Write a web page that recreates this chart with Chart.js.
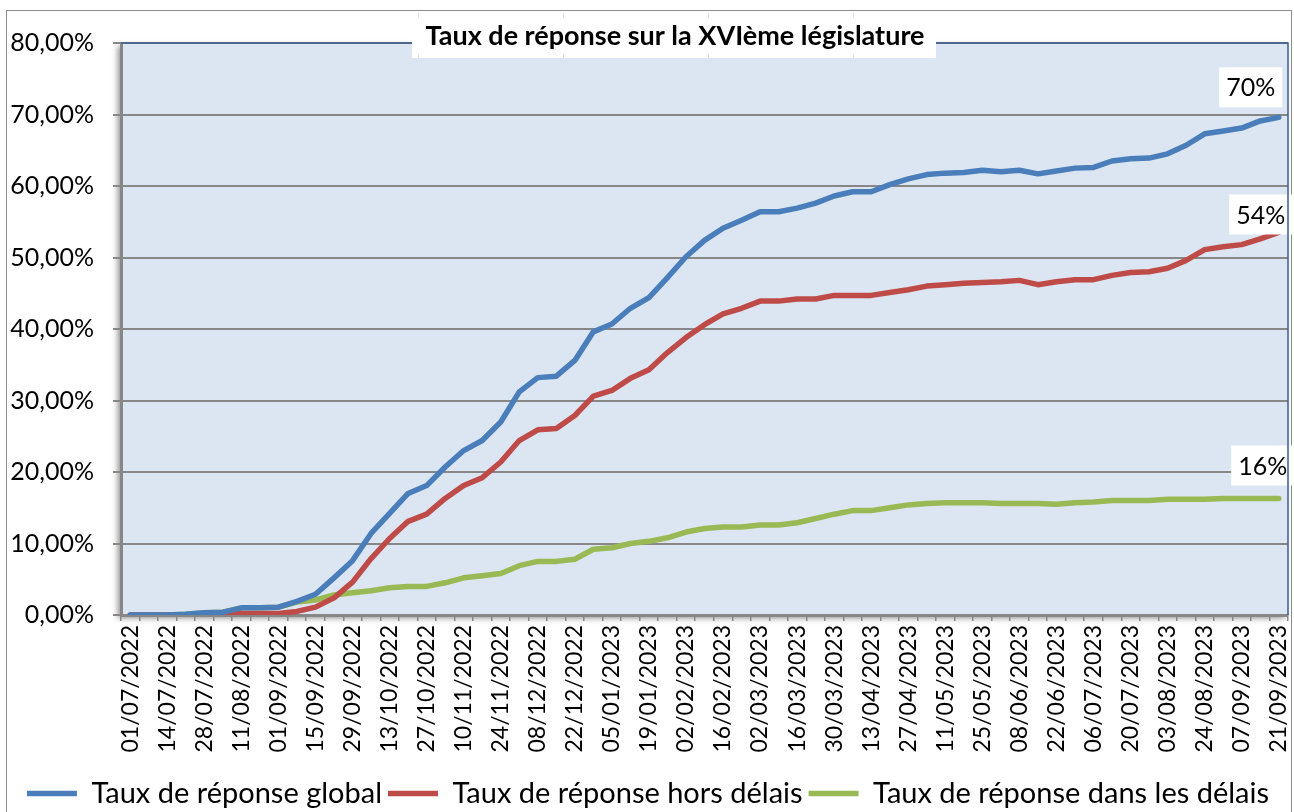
<!DOCTYPE html>
<html lang="fr">
<head>
<meta charset="utf-8">
<title>Taux de réponse sur la XVIème législature</title>
<script src="https://cdn.jsdelivr.net/npm/chart.js@4.4.1/dist/chart.umd.min.js"></script>
<style>
  html, body { margin: 0; padding: 0; background: #ffffff; }
  #wrap { width: 1294px; height: 812px; position: relative; }
</style>
</head>
<body>
<div id="wrap"><canvas id="chart" width="1294" height="812"></canvas></div>
<script>
// Weekly reporting dates (every other one is printed on the axis)
const categories = [
  '01/07/2022','07/07/2022','14/07/2022','21/07/2022','28/07/2022','04/08/2022','11/08/2022','25/08/2022',
  '01/09/2022','08/09/2022','15/09/2022','22/09/2022','29/09/2022','06/10/2022','13/10/2022','20/10/2022',
  '27/10/2022','03/11/2022','10/11/2022','17/11/2022','24/11/2022','01/12/2022','08/12/2022','15/12/2022',
  '22/12/2022','29/12/2022','05/01/2023','12/01/2023','19/01/2023','26/01/2023','02/02/2023','09/02/2023',
  '16/02/2023','23/02/2023','02/03/2023','09/03/2023','16/03/2023','23/03/2023','30/03/2023','06/04/2023',
  '13/04/2023','20/04/2023','27/04/2023','04/05/2023','11/05/2023','18/05/2023','25/05/2023','01/06/2023',
  '08/06/2023','15/06/2023','22/06/2023','29/06/2023','06/07/2023','13/07/2023','20/07/2023','27/07/2023',
  '03/08/2023','17/08/2023','24/08/2023','31/08/2023','07/09/2023','14/09/2023','21/09/2023'
];

// Response rates, in percent
const tauxGlobal = [
  0, 0, 0, 0.1, 0.3, 0.4, 1.0, 1.0, 1.1,
  1.9, 2.9, 5.2, 7.6, 11.4, 14.2, 17.0, 18.1, 20.7, 23.0,
  24.4, 27.0, 31.2, 33.2, 33.4, 35.6, 39.6, 40.7, 42.9, 44.4,
  47.2, 50.1, 52.4, 54.1, 55.2, 56.4, 56.4, 56.9, 57.6, 58.6,
  59.2, 59.2, 60.2, 61.0, 61.6, 61.8, 61.9, 62.2, 62.0, 62.2,
  61.7, 62.1, 62.5, 62.6, 63.5, 63.8, 63.9, 64.5, 65.7, 67.3,
  67.7, 68.1, 69.1, 69.6
];
const tauxHorsDelais = [
  0, 0, 0, 0, 0, 0, 0.2, 0.2, 0.2,
  0.5, 1.1, 2.4, 4.6, 7.9, 10.7, 13.1, 14.1, 16.3, 18.1,
  19.2, 21.4, 24.4, 25.9, 26.1, 27.9, 30.6, 31.4, 33.1, 34.3,
  36.7, 38.8, 40.6, 42.1, 42.9, 43.9, 43.9, 44.2, 44.2, 44.7,
  44.7, 44.7, 45.1, 45.5, 46.0, 46.2, 46.4, 46.5, 46.6, 46.8,
  46.2, 46.6, 46.9, 46.9, 47.5, 47.9, 48.0, 48.5, 49.6, 51.1,
  51.5, 51.8, 52.6, 53.5
];
const tauxDansDelais = [
  0, 0, 0, 0.1, 0.3, 0.4, 1.0, 1.0, 1.1,
  1.8, 2.1, 2.8, 3.1, 3.4, 3.8, 4.0, 4.0, 4.5, 5.2,
  5.5, 5.8, 6.9, 7.5, 7.5, 7.8, 9.2, 9.4, 10.0, 10.3,
  10.8, 11.6, 12.1, 12.3, 12.3, 12.6, 12.6, 12.9, 13.5, 14.1,
  14.6, 14.6, 15.0, 15.4, 15.6, 15.7, 15.7, 15.7, 15.6, 15.6,
  15.6, 15.5, 15.7, 15.8, 16.0, 16.0, 16.0, 16.2, 16.2, 16.2,
  16.3, 16.3, 16.3, 16.3
];

const seriesNames = ['Taux de réponse global', 'Taux de réponse hors délais', 'Taux de réponse dans les délais'];
const yTicks = [0, 10, 20, 30, 40, 50, 60, 70, 80];
const chartTitle = 'Taux de réponse sur la XVIème législature';

const FONT = 'Lato, "Open Sans", sans-serif';
const GRID = '#878787';
const FRAME = '#3b5f8f';

// Plot area fill with a soft shadow, plus the outer chart border
const plotFrame = {
  id: 'plotFrame',
  beforeDraw(chart) {
    const { ctx, chartArea: a } = chart;
    ctx.save();
    ctx.strokeStyle = '#8c8c8c';
    ctx.lineWidth = 1;
    ctx.strokeRect(6.5, 10.5, 1285, 812);
    ctx.shadowColor = 'rgba(0,0,0,0.45)';
    ctx.shadowBlur = 6;
    ctx.shadowOffsetX = -3;
    ctx.shadowOffsetY = 3;
    ctx.fillStyle = '#dce6f2';
    ctx.fillRect(a.left, a.top, a.right - a.left, a.bottom - a.top);
    ctx.restore();
  },
  afterDraw(chart) {
    const { ctx, chartArea: a } = chart;
    ctx.save();
    ctx.strokeStyle = FRAME;
    ctx.lineWidth = 1.5;
    ctx.beginPath();
    ctx.moveTo(a.left, a.top);
    ctx.lineTo(a.right, a.top);
    ctx.lineTo(a.right, a.bottom);
    ctx.stroke();
    ctx.restore();
  }
};

// Title drawn in a white box straddling the top edge of the plot
const titleBox = {
  id: 'titleBox',
  afterDraw(chart) {
    const { ctx } = chart;
    ctx.save();
    ctx.fillStyle = '#ffffff';
    ctx.fillRect(412, 13, 524, 45);
    ctx.strokeStyle = '#e3e3e3';
    ctx.lineWidth = 1;
    [418.5, 563.5, 708.5, 853.5].forEach(x => {
      ctx.beginPath(); ctx.moveTo(x, 13); ctx.lineTo(x, 18); ctx.stroke();
      ctx.beginPath(); ctx.moveTo(x, 54); ctx.lineTo(x, 58); ctx.stroke();
    });
    ctx.font = 'bold 27px ' + FONT;
    ctx.fillStyle = '#000000';
    ctx.textAlign = 'center';
    ctx.textBaseline = 'middle';
    ctx.fillText(chartTitle, 675, 36);
    ctx.restore();
  }
};

// Value label on the last point of each series
const endLabels = {
  id: 'endLabels',
  afterDatasetsDraw(chart) {
    const { ctx } = chart;
    ctx.save();
    ctx.font = '25px ' + FONT;
    ctx.textAlign = 'center';
    ctx.textBaseline = 'middle';
    chart.data.datasets.forEach((ds, i) => {
      const meta = chart.getDatasetMeta(i);
      const last = meta.data.length - 1;
      const pt = meta.data[last];
      const txt = Math.round(ds.data[last]) + '%';
      const off = ds.endLabelOffset;
      const cx = pt.x + off.dx, cy = pt.y + off.dy;
      const w = ctx.measureText(txt).width + 14, h = 40;
      ctx.fillStyle = '#ffffff';
      ctx.fillRect(cx - w / 2, cy - h / 2, w, h);
      ctx.fillStyle = '#000000';
      ctx.fillText(txt, cx, cy + 1);
    });
    ctx.restore();
  }
};

const lineStyle = (color) => ({
  borderColor: color,
  backgroundColor: color,
  borderWidth: 5.5,
  borderCapStyle: 'round',
  borderJoinStyle: 'round',
  pointRadius: 0,
  pointHoverRadius: 0,
  tension: 0,
  fill: false
});

new Chart(document.getElementById('chart'), {
  type: 'line',
  data: {
    labels: categories,
    datasets: [
      Object.assign({ label: seriesNames[0], data: tauxGlobal, endLabelOffset: { dx: -28, dy: -30 } }, lineStyle('#4a7ebb')),
      Object.assign({ label: seriesNames[1], data: tauxHorsDelais, endLabelOffset: { dx: -18, dy: -18 } }, lineStyle('#be4b48')),
      Object.assign({ label: seriesNames[2], data: tauxDansDelais, endLabelOffset: { dx: -16, dy: -33 } }, lineStyle('#98b954'))
    ]
  },
  options: {
    responsive: false,
    animation: false,
    events: [],
    layout: { padding: { top: 43, left: 8, right: 6, bottom: -6 } },
    scales: {
      x: {
        type: 'category',
        offset: true,
        grid: {
          offset: true,
          drawOnChartArea: false,
          drawTicks: true,
          tickLength: 6,
          color: GRID,
          lineWidth: 1.5
        },
        border: { display: true, color: GRID, width: 3 },
        ticks: {
          autoSkip: false,
          minRotation: 90,
          maxRotation: 90,
          padding: 4,
          color: '#000000',
          font: { family: FONT, size: 23 },
          callback(value, index) { return index % 2 === 0 ? categories[index] : ''; }
        },
        afterFit(scale) {
          scale.height = 158;
          scale.paddingLeft = 0;
          scale.paddingRight = 0;
        }
      },
      y: {
        min: yTicks[0],
        max: yTicks[yTicks.length - 1],
        afterBuildTicks(scale) { scale.ticks = yTicks.map(v => ({ value: v })); },
        grid: {
          color: GRID,
          lineWidth: 2,
          drawTicks: true,
          tickLength: 8
        },
        border: { display: true, color: GRID, width: 3 },
        ticks: {
          padding: 19,
          color: '#000000',
          font: { family: FONT, size: 25 },
          callback(value) { return value.toFixed(2).replace('.', ',') + '%'; }
        },
        afterFit(scale) { scale.width = 113; }
      }
    },
    plugins: {
      title: { display: false },
      tooltip: { enabled: false },
      legend: {
        display: true,
        position: 'bottom',
        labels: {
          usePointStyle: true,
          pointStyle: 'line',
          pointStyleWidth: 50,
          padding: 6,
          color: '#000000',
          font: { family: FONT, size: 29 }
        }
      }
    }
  },
  plugins: [plotFrame, titleBox, endLabels]
});
</script>
</body>
</html>
